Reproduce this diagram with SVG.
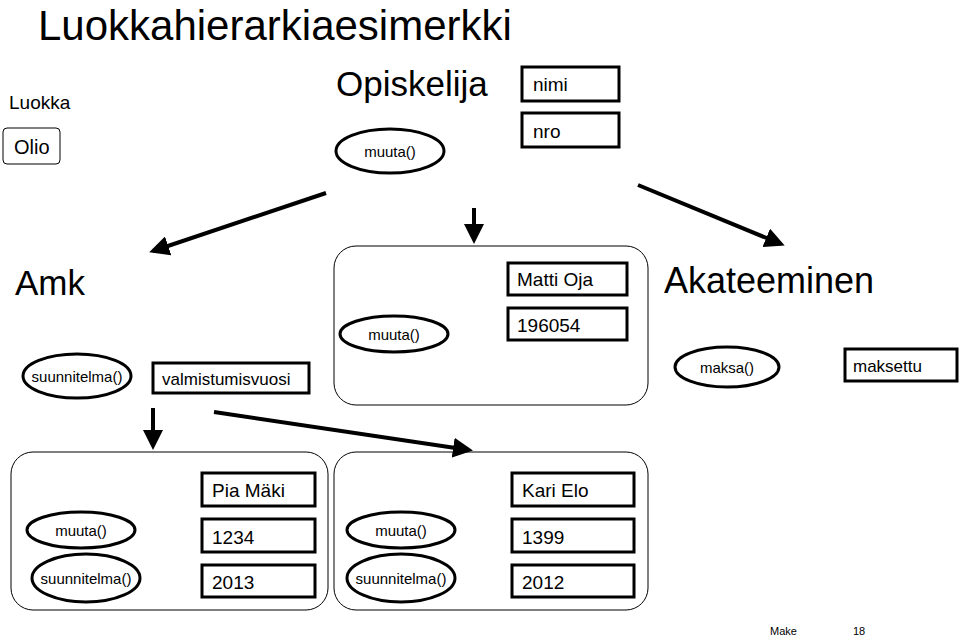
<svg xmlns="http://www.w3.org/2000/svg" width="960" height="637" viewBox="0 0 960 637">
<style>
text{font-family:"Liberation Sans",Arial,sans-serif;fill:#000}
.box{fill:#fff;stroke:#000;stroke-width:3}
.ell{fill:#fff;stroke:#000;stroke-width:3}
.grp{fill:#fff;stroke:#000;stroke-width:1}
.ar{stroke:#000;stroke-width:4;fill:none;marker-end:url(#ah)}
.s{font-size:15px}
.m{font-size:19px}
</style>
<defs><marker id="ah" markerWidth="5" markerHeight="5" refX="4" refY="2.5" orient="auto" markerUnits="strokeWidth"><path d="M0,0L5,2.5L0,5z" fill="#000"/></marker></defs>
<rect width="960" height="637" fill="#fff"/>
<text x="38" y="40" font-size="42">Luokkahierarkiaesimerkki</text>
<g id="legend"><text x="9" y="109" font-size="19">Luokka</text>
<rect x="3" y="128" width="57" height="36" rx="4" class="grp"/><text x="14" y="154" font-size="20">Olio</text></g>
<g id="opiskelija"><text x="336" y="96" font-size="35">Opiskelija</text>
<ellipse cx="390" cy="151" rx="54" ry="22" class="ell"/><text x="390" y="157" class="s" text-anchor="middle">muuta()</text>
<rect x="522" y="67" width="97" height="34" class="box"/><text x="533" y="91" class="m">nimi</text>
<rect x="522" y="113" width="97" height="34" class="box"/><text x="533" y="138" class="m">nro</text></g>
<g id="matti"><rect x="334" y="246" width="314" height="159" rx="22" class="grp"/>
<rect x="508" y="263" width="119" height="32" class="box"/><text x="517" y="286" class="m">Matti Oja</text>
<rect x="508" y="308" width="119" height="32" class="box"/><text x="517" y="332" class="m">196054</text>
<ellipse cx="394" cy="334" rx="54" ry="18" class="ell"/><text x="394" y="340" class="s" text-anchor="middle">muuta()</text></g>
<g id="amk"><text x="15" y="295" font-size="35">Amk</text>
<ellipse cx="77" cy="376" rx="54" ry="22" class="ell"/><text x="77" y="382" class="s" text-anchor="middle">suunnitelma()</text>
<rect x="153" y="363" width="156" height="30" class="box"/><text x="162" y="385" font-size="17">valmistumisvuosi</text></g>
<g id="akateeminen"><text x="664" y="293" font-size="36">Akateeminen</text>
<ellipse cx="727" cy="367" rx="52" ry="20" class="ell"/><text x="727" y="373" class="s" text-anchor="middle">maksa()</text>
<rect x="845" y="349" width="112" height="32" class="box"/><text x="853" y="372" font-size="17">maksettu</text></g>
<g id="pia"><rect x="11" y="452" width="317" height="158" rx="22" class="grp"/>
<rect x="202" y="473" width="113" height="33" class="box"/><text x="212" y="497" class="m">Pia Mäki</text>
<rect x="202" y="519" width="113" height="33" class="box"/><text x="212" y="544" class="m">1234</text>
<rect x="202" y="565" width="113" height="32" class="box"/><text x="212" y="589" class="m">2013</text>
<ellipse cx="81" cy="530" rx="54" ry="18" class="ell"/><text x="81" y="536" class="s" text-anchor="middle">muuta()</text>
<ellipse cx="86" cy="578" rx="54" ry="24" class="ell"/><text x="86" y="584" class="s" text-anchor="middle">suunnitelma()</text></g>
<g id="kari"><rect x="334" y="452" width="314" height="158" rx="22" class="grp"/>
<rect x="512" y="473" width="122" height="33" class="box"/><text x="522" y="497" class="m">Kari Elo</text>
<rect x="512" y="519" width="122" height="33" class="box"/><text x="522" y="544" class="m">1399</text>
<rect x="512" y="565" width="122" height="32" class="box"/><text x="522" y="589" class="m">2012</text>
<ellipse cx="401" cy="530" rx="54" ry="18" class="ell"/><text x="401" y="536" class="s" text-anchor="middle">muuta()</text>
<ellipse cx="401" cy="578" rx="54" ry="24" class="ell"/><text x="401" y="584" class="s" text-anchor="middle">suunnitelma()</text></g>
<g id="connectors">
<line x1="326" y1="193" x2="153" y2="251" class="ar"/>
<line x1="474" y1="208" x2="474" y2="240" class="ar"/>
<line x1="638" y1="185" x2="781" y2="244" class="ar"/>
<line x1="153" y1="408" x2="153" y2="446" class="ar"/>
<line x1="214" y1="412" x2="469" y2="450" class="ar"/>
</g>
<text x="770" y="635" font-size="11" font-family="Liberation Serif,serif">Make</text>
<text x="853" y="635" font-size="11" font-family="Liberation Serif,serif">18</text>
</svg>
